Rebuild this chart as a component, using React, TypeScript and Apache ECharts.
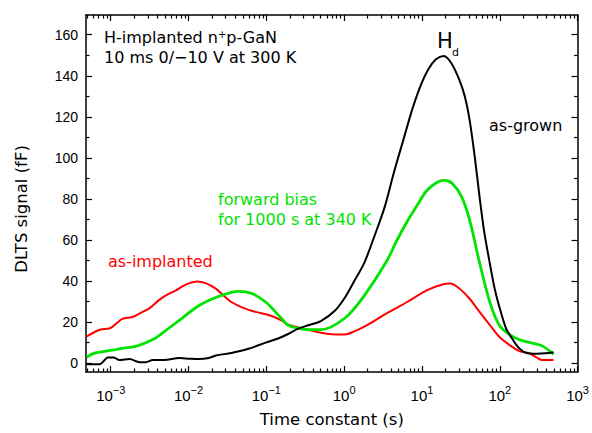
import React, { useEffect, useRef } from "react";
import * as echarts from "echarts";

// log10 of time constant (s) and DLTS signal (fF)
const asGrownLogTau = [-3.31,-3.14,-3.09,-3.04,-2.96,-2.89,-2.76,-2.63,-2.55,-2.46,-2.31,-2.12,-1.99,-1.87,-1.74,-1.65,-1.45,-1.23,-1.01,-0.85,-0.72,-0.59,-0.46,-0.30,-0.12,0.01,0.13,0.26,0.39,0.52,0.64,0.77,0.87,0.97,1.08,1.18,1.28,1.38,1.48,1.55,1.61,1.68,1.74,1.80,1.87,1.93,1.99,2.08,2.15,2.21,2.27,2.34,2.47,2.59,2.69];
const asGrownSignal = [-0.5,-0.5,1,2.8,2.8,1.5,2,0.5,0.5,1.5,1.5,2.5,2.2,2,2.5,3.7,5,7,10,12,14.2,16.8,18.5,20.5,25.5,32,40,49,62,76,93,110,123,134,143,148,149.6,146,138,130,119,100,81,64,49,37,28,17,12.5,9,6.5,5,4.6,4.8,5.3];

const forwardLogTau = [-3.31,-3.20,-3.10,-2.89,-2.67,-2.46,-2.29,-2.08,-1.87,-1.65,-1.45,-1.36,-1.19,-1.01,-0.81,-0.72,-0.59,-0.46,-0.30,0.01,0.26,0.55,0.68,0.81,0.94,1.06,1.19,1.29,1.39,1.51,1.61,1.74,1.87,1.99,2.12,2.25,2.43,2.55,2.69];
const forwardSignal = [3,5,5.6,7,8.3,11.5,16,22,28,32,34.5,35,34,29.8,22,18.5,17,16.3,16.3,22,33,50,60,69,77,84,88,89,87.5,81,70,49,30,18.7,14,11.5,9.6,8.3,4.3];

const implantedLogTau = [-3.31,-3.14,-3.01,-2.92,-2.85,-2.72,-2.59,-2.50,-2.38,-2.29,-2.16,-2.08,-1.99,-1.89,-1.78,-1.65,-1.55,-1.45,-1.29,-1.14,-0.97,-0.81,-0.72,-0.46,-0.30,-0.12,0.01,0.13,0.30,0.55,0.81,1.06,1.25,1.36,1.48,1.61,1.74,1.87,1.99,2.12,2.25,2.38,2.47,2.55,2.69];
const implantedSignal = [13,16.3,17,19.6,21.6,22.5,25,26.8,30.7,33,35.5,37.4,39,39.8,39,36.3,33,29.8,26.8,25,23.5,21,18.7,16.3,14.8,14,14,15.5,18.7,24.4,29.8,35.5,38.2,38.8,36.4,31.5,25,18.7,13,9,5.9,4.8,2.8,1.5,1.5];

const xMajorExp = [-3, -2, -1, 0, 1, 2, 3];
const yMajorTicks = [0, 20, 40, 60, 80, 100, 120, 140, 160];
const yMinorTicks = [10, 30, 50, 70, 90, 110, 130, 150];

const X_MIN = -3.318;
const X_MAX = 3;
const Y_MIN = -4.3;
const Y_MAX = 169.6;

const FONT = '"Liberation Sans", Arial, sans-serif';
const TFONT = '"DejaVu Sans", sans-serif';
const GREEN = "#00e400";
const RED = "#ff0000";

const xMinorTicks: number[] = [];
for (let n = -4; n <= 2; n++) {
  for (let k = 2; k <= 9; k++) {
    const v = n + Math.log10(k);
    if (v > X_MIN && v < X_MAX) xMinorTicks.push(v);
  }
}

const zip = (a: number[], b: number[]) => a.map((v, i) => [v, b[i]]);

export default function App() {
  const ref = useRef<HTMLDivElement>(null);
  useEffect(() => {
    if (!ref.current) return;
    const chart = echarts.init(ref.current, null, { renderer: "svg" });
    const axisLine = { show: true, onZero: false, lineStyle: { color: "#000", width: 1.5 } };
    const noLine = { show: false, onZero: false };
    const tickStyle = { color: "#000", width: 1.2 };
    const baseX = { type: "value", min: X_MIN, max: X_MAX, splitLine: { show: false } };
    const baseY = { type: "value", min: Y_MIN, max: Y_MAX, splitLine: { show: false } };
    const supMinus = (v: number) => (v < 0 ? "\u2212" + Math.abs(v) : String(v));
    const txt = (text: string, x: number, y: number, fill: string, size = 16) => ({
      type: "text",
      x,
      y,
      style: { text, fontSize: size, fontFamily: TFONT, fill, align: "left", verticalAlign: "middle" },
    });
    chart.setOption({
      animation: false,
      backgroundColor: "#fff",
      grid: { left: 86, right: 10, top: 15, bottom: 55, containLabel: false },
      xAxis: [
        {
          ...baseX,
          position: "bottom",
          axisLine,
          axisTick: { show: true, inside: true, length: 6, customValues: xMajorExp, lineStyle: tickStyle },
          axisLabel: {
            show: true,
            customValues: xMajorExp,
            margin: 12,
            formatter: (v: number) => `{b|10}{s|${supMinus(Math.round(v))}}`,
            rich: {
              b: { fontSize: 15, fontFamily: FONT, color: "#000", lineHeight: 22 },
              s: { fontSize: 11, fontFamily: FONT, color: "#000", lineHeight: 12, verticalAlign: "top" },
            },
          },
          name: "Time constant (s)",
          nameLocation: "middle",
          nameGap: 39,
          nameTextStyle: { fontSize: 16.5, fontFamily: TFONT, color: "#000" },
        },
        {
          ...baseX,
          position: "bottom",
          axisLine: noLine,
          axisTick: { show: true, inside: true, length: 3.5, customValues: xMinorTicks, lineStyle: tickStyle },
          axisLabel: { show: false },
        },
        {
          ...baseX,
          position: "top",
          axisLine,
          axisTick: { show: true, inside: true, length: 6, customValues: xMajorExp, lineStyle: tickStyle },
          axisLabel: { show: false },
        },
        {
          ...baseX,
          position: "top",
          axisLine: noLine,
          axisTick: { show: true, inside: true, length: 3.5, customValues: xMinorTicks, lineStyle: tickStyle },
          axisLabel: { show: false },
        },
      ],
      yAxis: [
        {
          ...baseY,
          position: "left",
          axisLine,
          axisTick: { show: true, inside: true, length: 6, customValues: yMajorTicks, lineStyle: tickStyle },
          axisLabel: { show: true, customValues: yMajorTicks, margin: 8, fontSize: 14, fontFamily: FONT, color: "#000" },
        },
        {
          ...baseY,
          position: "left",
          axisLine: noLine,
          axisTick: { show: true, inside: true, length: 3.5, customValues: yMinorTicks, lineStyle: tickStyle },
          axisLabel: { show: false },
        },
        {
          ...baseY,
          position: "right",
          axisLine,
          axisTick: { show: true, inside: true, length: 6, customValues: yMajorTicks, lineStyle: tickStyle },
          axisLabel: { show: false },
        },
        {
          ...baseY,
          position: "right",
          axisLine: noLine,
          axisTick: { show: true, inside: true, length: 3.5, customValues: yMinorTicks, lineStyle: tickStyle },
          axisLabel: { show: false },
        },
      ],
      series: [
        {
          name: "as-implanted",
          type: "line",
          data: zip(implantedLogTau, implantedSignal),
          showSymbol: false,
          smooth: 0.35,
          lineStyle: { color: RED, width: 2 },
          z: 3,
        },
        {
          name: "forward bias",
          type: "line",
          data: zip(forwardLogTau, forwardSignal),
          showSymbol: false,
          smooth: 0.35,
          lineStyle: { color: GREEN, width: 2.8 },
          z: 4,
        },
        {
          name: "as-grown",
          type: "line",
          data: zip(asGrownLogTau, asGrownSignal),
          showSymbol: false,
          smooth: 0.3,
          lineStyle: { color: "#000", width: 2 },
          z: 5,
        },
      ],
      graphic: [
        {
          type: "text",
          x: 21,
          y: 209,
          rotation: Math.PI / 2,
          style: { text: "DLTS signal (fF)", fontSize: 16.5, fontFamily: TFONT, fill: "#000", align: "center", verticalAlign: "middle" },
        },
        {
          type: "text",
          x: 104,
          y: 37,
          style: {
            text: "H-implanted n{sup|+}p-GaN",
            fontSize: 16,
            fontFamily: TFONT,
            fill: "#000",
            align: "left",
            verticalAlign: "middle",
            rich: {
              sup: { fontSize: 10, fontFamily: TFONT, fill: "#000", lineHeight: 10, verticalAlign: "top" },
            },
          },
        },
        txt("10 ms 0/\u221210 V at 300 K", 104, 57, "#000"),
        txt("H", 437, 41, "#000", 21),
        txt("d", 452, 52, "#000", 11),
        txt("as-grown", 489, 125, "#000"),
        txt("forward bias", 218, 199, GREEN),
        txt("for 1000 s at 340 K", 218, 219, GREEN),
        txt("as-implanted", 108, 261, RED),
      ],
    });
    return () => chart.dispose();
  }, []);
  return <div ref={ref} style={{ width: 592, height: 433, position: "absolute", left: 0, top: 0 }} />;
}
